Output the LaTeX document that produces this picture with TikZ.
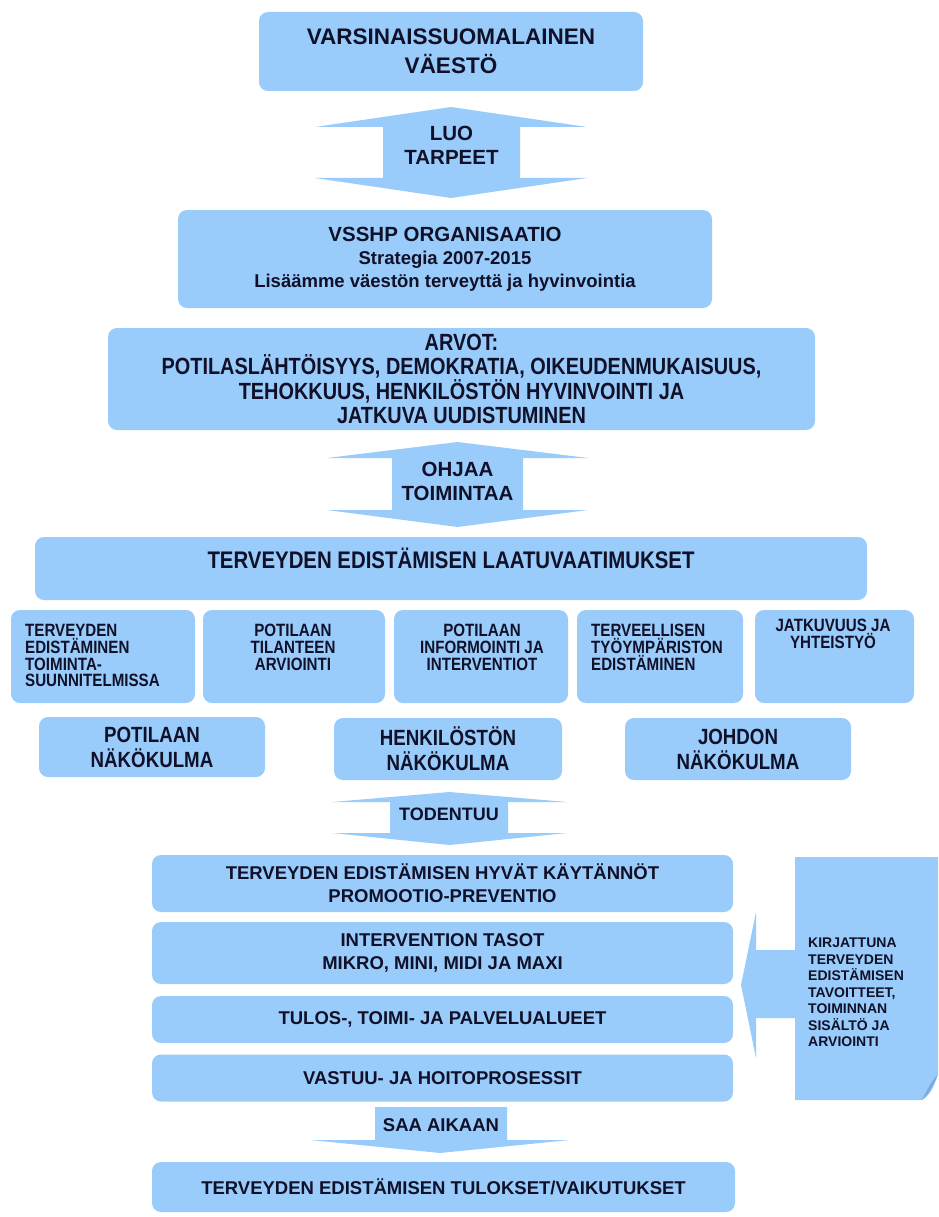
\documentclass[tikz,border=0pt]{standalone}
\usepackage{fontspec}
\setmainfont{Liberation Sans}
\newfontfamily\narrowfont[FakeStretch=0.85]{Liberation Sans}
\usetikzlibrary{positioning}
\definecolor{boxblue}{RGB}{153,204,250}
\definecolor{ink}{RGB}{16,16,40}
\definecolor{foldblue}{RGB}{120,170,225}

\begin{document}
\begin{tikzpicture}[
  x=1pt, y=-1pt,
  box/.style={fill=boxblue, rounded corners=9pt, inner sep=0pt, align=center, text=ink},
  lbl/.style={inner sep=0pt, text=ink},
  big/.style={font=\fontsize{22.5}{28.5}\selectfont\bfseries},
  mid/.style={font=\fontsize{20.5}{24}\selectfont\bfseries},
  std/.style={font=\fontsize{18.5}{23}\selectfont\bfseries},
  small/.style={font=\fontsize{14}{16.5}\selectfont\bfseries},
  tall/.style={font=\narrowfont\fontsize{23.4}{24.5}\selectfont\bfseries},
  view/.style={font=\narrowfont\fontsize{22}{25}\selectfont\bfseries},
  req/.style={font=\narrowfont\fontsize{17.8}{16.8}\selectfont\bfseries}
]
\useasboundingbox (0,0) rectangle (938,1217);

% top part
\node[box, big, minimum width=384, minimum height=79] (pop) at (451,51.5)
  {VARSINAISSUOMALAINEN\\VÄESTÖ};
\fill[boxblue] (451,107) -- (587,127) -- (520,127) -- (520,178) -- (587,178)
  -- (451,198) -- (315,178) -- (383,178) -- (383,127) -- (315,127) -- cycle;
\node[lbl, mid, align=center] (luo) at (451.5,145) {LUO\\TARPEET};

\node[box, std, minimum width=534, minimum height=98] (org) at (445,259)
  {{\fontsize{20.5}{24}\selectfont VSSHP ORGANISAATIO}\\Strategia 2007-2015\\
   Lisäämme väestön terveyttä ja hyvinvointia};

\node[box, tall, minimum width=707, minimum height=102] (arvot) at (461.5,379)
  {ARVOT:\\POTILASLÄHTÖISYYS, DEMOKRATIA, OIKEUDENMUKAISUUS,\\
   TEHOKKUUS, HENKILÖSTÖN HYVINVOINTI JA\\JATKUVA UUDISTUMINEN};

\fill[boxblue] (457.5,442) -- (588,458) -- (523,458) -- (523,510) -- (588,510)
  -- (457.5,527) -- (327,510) -- (392,510) -- (392,458) -- (327,458) -- cycle;
\node[lbl, mid, align=center] (ohjaa) at (457.5,481) {OHJAA\\TOIMINTAA};

% quality requirements
\node[box, minimum width=832, minimum height=63] (laatu) at (451,568.5) {};
\node[lbl, tall, font=\narrowfont\fontsize{24}{26}\selectfont\bfseries, anchor=base]
  (laatu-t) at (451,568.6) {TERVEYDEN EDISTÄMISEN LAATUVAATIMUKSET};

\foreach \n/\cx/\w in {1/103/184, 2/294/182, 3/481/174, 4/660/166, 5/834.5/159}
  \node[box, minimum width=\w, minimum height=93] (q\n) at (\cx,656.5) {};
\node[lbl, req, align=left, anchor=north west] (q1-t) at (25,624)
  {TERVEYDEN\\EDISTÄMINEN\\TOIMINTA-\\SUUNNITELMISSA};
\node[lbl, req, align=center, anchor=north] (q2-t) at (293,624)
  {POTILAAN\\TILANTEEN\\ARVIOINTI};
\node[lbl, req, align=center, anchor=north] (q3-t) at (482,624)
  {POTILAAN\\INFORMOINTI JA\\INTERVENTIOT};
\node[lbl, req, align=left, anchor=north west] (q4-t) at (591,624)
  {TERVEELLISEN\\TYÖYMPÄRISTON\\EDISTÄMINEN};
\node[lbl, req, align=center, anchor=north] (q5-t) at (833,619)
  {JATKUVUUS JA\\YHTEISTYÖ};

\node[box, view, minimum width=226, minimum height=60] (potilas) at (152,747)
  {POTILAAN\\NÄKÖKULMA};
\node[box, view, minimum width=228, minimum height=62] (henk) at (448,749)
  {HENKILÖSTÖN\\NÄKÖKULMA};
\node[box, view, minimum width=226, minimum height=62] (johto) at (738,749)
  {JOHDON\\NÄKÖKULMA};

\fill[boxblue] (449.5,792) -- (567,802) -- (508,802) -- (508,833) -- (567,833)
  -- (449.5,845) -- (332,833) -- (390,833) -- (390,802) -- (332,802) -- cycle;
\node[lbl, std, font=\fontsize{18}{22}\selectfont\bfseries] (tod) at (449,814) {TODENTUU};

% practice levels
\node[box, std, minimum width=581, minimum height=57] (hyvat) at (442.5,883.5)
  {TERVEYDEN EDISTÄMISEN HYVÄT KÄYTÄNNÖT\\PROMOOTIO-PREVENTIO};
\node[box, std, minimum width=581, minimum height=62] (tasot) at (442.5,953)
  {INTERVENTION TASOT\\MIKRO, MINI, MIDI JA MAXI};
\node[box, std, minimum width=581, minimum height=47] (alueet) at (442.5,1019.5)
  {TULOS-, TOIMI- JA PALVELUALUEET};
\node[box, std, minimum width=581, minimum height=47] (proses) at (442.5,1078)
  {VASTUU- JA HOITOPROSESSIT};

\fill[boxblue] (375,1107) -- (507,1107) -- (507,1140) -- (570,1140) -- (440,1153)
  -- (310,1140) -- (375,1140) -- cycle;
\node[lbl, std] (saa) at (441,1125) {SAA AIKAAN};

\node[box, std, minimum width=583, minimum height=50] (tulos) at (443.5,1187)
  {TERVEYDEN EDISTÄMISEN TULOKSET/VAIKUTUKSET};

% written goals, arrow to the left
\fill[boxblue] (795,857) -- (938,857) -- (938,1074) .. controls (934,1088) and (929,1096) .. (922,1100)
  -- (795,1100) -- (795,1018) -- (756,1018) -- (756,1058) -- (741,985) -- (756,912)
  -- (756,950) -- (795,950) -- cycle;
\fill[foldblue] (922,1100) .. controls (927,1090) and (931,1082) .. (938,1074)
  .. controls (933,1086) and (929,1094) .. (922,1100) -- cycle;
\node[lbl, small, align=left, anchor=west] (kirj) at (808,992.5)
  {KIRJATTUNA\\TERVEYDEN\\EDISTÄMISEN\\TAVOITTEET,\\TOIMINNAN\\SISÄLTÖ JA\\ARVIOINTI};
\end{tikzpicture}
\end{document}
